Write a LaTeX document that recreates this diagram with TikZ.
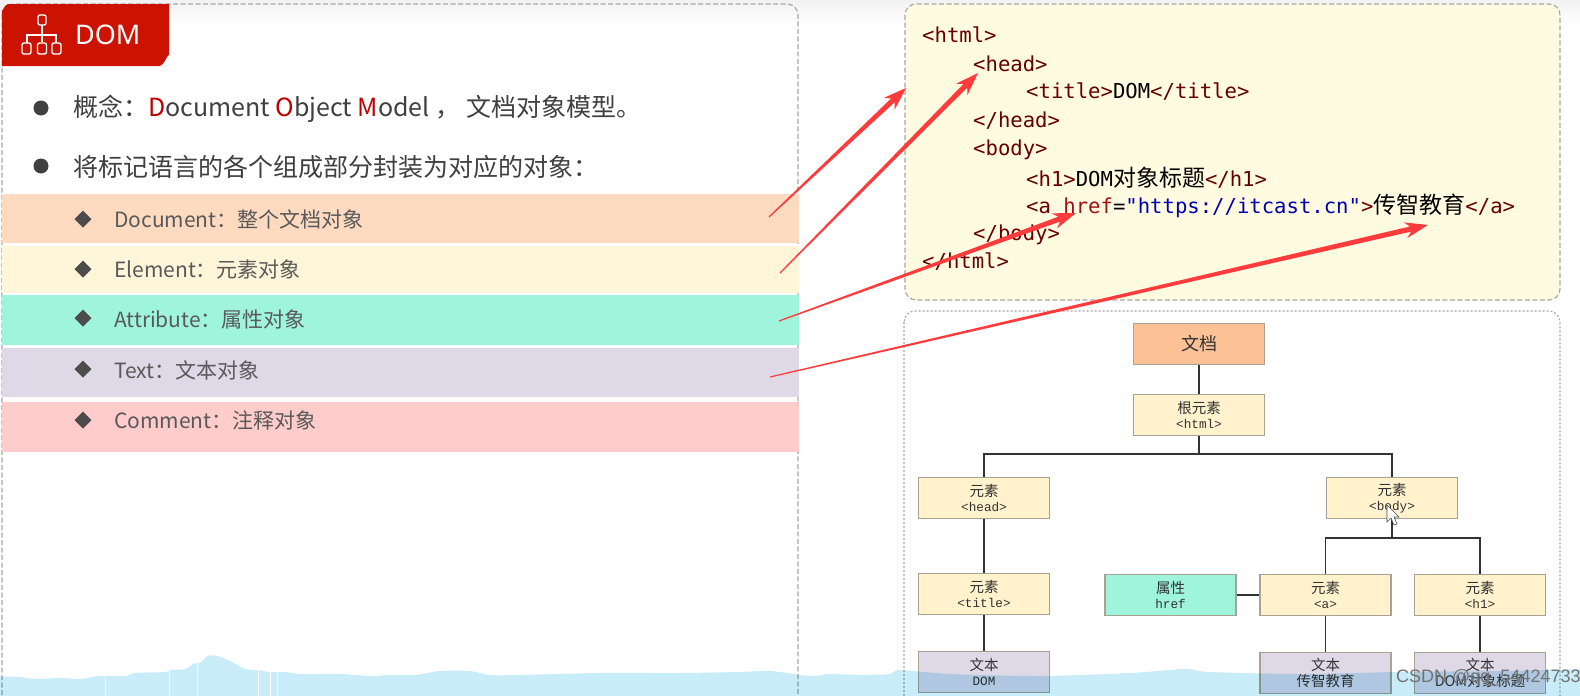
\documentclass[tikz,border=0pt]{standalone}
\usepackage{fontspec}
\setmainfont{Noto Sans CJK SC}
\newfontfamily\nsans{Noto Sans}
\newfontfamily\cmono{DejaVu Sans Mono}
\newfontfamily\tmono{Liberation Mono}
\newfontfamily\wmark{Liberation Sans}
\usetikzlibrary{calc}
\definecolor{tabred}{HTML}{CC1200}
\definecolor{bodytxt}{HTML}{404040}
\definecolor{rowtxt}{HTML}{595959}
\definecolor{emred}{HTML}{C00000}
\definecolor{tagc}{HTML}{660000}
\definecolor{attrc}{HTML}{A01010}
\definecolor{urlc}{HTML}{0000B0}
\definecolor{arrowc}{HTML}{FF3B3B}
\definecolor{panely}{HTML}{FFFBE1}
\definecolor{cream}{HTML}{FFF2CC}
\definecolor{orangeb}{HTML}{FCC296}
\definecolor{greenb}{HTML}{9FF5DB}
\definecolor{purpleb}{HTML}{DFD8E6}
\definecolor{framec}{HTML}{A8A294}
\definecolor{water}{HTML}{C9ECF9}
\newcommand\fs[1]{\fontsize{#1}{#1}\selectfont}
\newcommand\taperarrow[2]{%
  \coordinate (neck) at ($(#2)!18pt!(#1)$);
  \coordinate (barb) at ($(#2)!23pt!(#1)$);
  \fill[arrowc] ($(#1)!0.6pt!90:(#2)$) -- ($(neck)!2.6pt!90:(#2)$) -- ($(barb)!8pt!90:(#2)$)
    -- (#2) -- ($(barb)!8pt!-90:(#2)$) -- ($(neck)!2.6pt!-90:(#2)$) -- ($(#1)!0.6pt!-90:(#2)$) -- cycle;
}
\tikzset{
  x=1pt,y=-1pt,
  rowbar/.style={minimum width=797,minimum height=#1,inner sep=0,anchor=north west,draw=none},
  rowlabel/.style={anchor=west,inner sep=0,text=rowtxt,font=\fs{21}},
  lead/.style={anchor=west,inner sep=0,text=bodytxt,font=\fs{25}},
  codeline/.style={anchor=west,inner sep=0,font=\cmono\fs{20.6},text=tagc},
  treebox/.style={draw=framec,line width=1.6pt,minimum width=131,minimum height=41,inner sep=0,
     align=center,font=\fs{14.5},text=black!80,fill=cream},
  link/.style={draw=black!80,line width=1.7pt},
  panel/.style={draw=black!35,line width=1.1pt,rounded corners=11pt},
}
\begin{document}
\begin{tikzpicture}
\useasboundingbox (0,0) rectangle (1580,696);
\clip (0,0) rectangle (1580,696);
\fill[white] (0,0) rectangle (1580,696);
\shade[top color=black!5,bottom color=white,draw=none] (0,0) rectangle (1580,28);

% panels
\draw[panel,dashed,dash pattern=on 5pt off 2.5pt] (2,4) rectangle (798,730);
\draw[panel,dashed,dash pattern=on 5pt off 2.5pt,fill=panely] (905,4) rectangle (1560,300);
\draw[panel,dash pattern=on 2pt off 2pt] (904,311) rectangle (1560,730);

% tab
\fill[tabred] (2,66) -- (2,10) to[out=-90,in=180] (8,4) -- (169,4) -- (169,56) to[out=90,in=0] (159,66) -- cycle;
\begin{scope}[draw=white,line width=1.4pt]
  \draw[rounded corners=2pt] (38,15) rectangle (46,25);
  \draw (42,25) -- (42,42);
  \draw (27,43) -- (27,35) -- (56,35) -- (56,43);
  \draw[rounded corners=2pt] (22,43) rectangle (31,54);
  \draw[rounded corners=2pt] (37.5,43) rectangle (46.5,54);
  \draw[rounded corners=2pt] (52,43) rectangle (61,54);
\end{scope}
\node[anchor=west,inner sep=0,text=white,font=\nsans\bfseries\fs{27}] (domtitle) at (75,35) {DOM};

% lead lines
\fill[black!75] (41,108) circle (7.5);
\fill[black!75] (41,166) circle (7.5);
\node[lead] (concept) at (73,109) {概念：\textcolor{emred}{D}ocument \textcolor{emred}{O}bject \textcolor{emred}{M}odel ， 文档对象模型。};
\node[lead] (wrapline) at (73,167) {将标记语言的各个组成部分封装为对应的对象：};

% rows
\node[rowbar=49,fill=orangeb!60!white] (rowa) at (2,194) {};
\node[rowbar=47,fill=cream!75!white] (rowb) at (2,246) {};
\node[rowbar=50,fill=greenb] (rowc) at (2,295) {};
\node[rowbar=49,fill=purpleb] (rowd) at (2,348) {};
\node[rowbar=50,fill=red!20!white] (rowe) at (2,402) {};
\foreach \yy in {219,269,318,369,420}{
  \fill[black!70] (83,\yy-8.5) -- (91.5,\yy) -- (83,\yy+8.5) -- (74.5,\yy) -- cycle;
}
\node[rowlabel] (ta) at (114,219) {Document：整个文档对象};
\node[rowlabel] (tb) at (114,269) {Element：元素对象};
\node[rowlabel] (tc) at (114,319) {Attribute：属性对象};
\node[rowlabel] (td) at (114,370) {Text：文本对象};
\node[rowlabel] (te) at (114,420) {Comment：注释对象};

% code
\newcommand\cjkc[1]{{\rmfamily\fs{23}\textcolor{black}{#1}}}
\node[codeline] (c1) at (922,35) {<html>};
\node[codeline] (c2) at (973,64) {<head>};
\node[codeline] (c3) at (1026,92) {<title>\textcolor{black}{DOM}</title>};
\node[codeline] (c4) at (973,121) {</head>};
\node[codeline] (c5) at (973,150) {<body>};
\node[codeline] (c6) at (1026,178) {<h1>\textcolor{black}{DOM}\cjkc{对象标题}</h1>};
\node[codeline] (c7) at (1026,206) {<a \textcolor{attrc}{href}\textcolor{black}{=}\textcolor{urlc}{"https://itcast.cn"}>\cjkc{传智教育}</a>};
\node[codeline] (c8) at (973,235) {</body>};
\node[codeline] (c9) at (922,262) {</html>};

% tree
\newcommand\tl[1]{{\tmono\fs{12.7}#1}}
\node[treebox,fill=orangeb,font=\fs{18}] (doc) at (1199,344) {文档};
\node[treebox] (root) at (1199,415) {根元素\\[1pt]\tl{<html>}};
\node[treebox] (head) at (984,498) {元素\\[1pt]\tl{<head>}};
\node[treebox] (body) at (1392,498) {元素\\[1pt]\tl{<body>}};
\node[treebox] (titl) at (984,594) {元素\\[1pt]\tl{<title>}};
\node[treebox,fill=greenb] (href) at (1170.5,595) {属性\\[1pt]\tl{href}};
\node[treebox] (aa) at (1325.5,595) {元素\\[1pt]\tl{<a>}};
\node[treebox] (hh) at (1480,595) {元素\\[1pt]\tl{<h1>}};
\node[treebox,fill=purpleb] (t1) at (984,672) {文本\\[1pt]\tl{DOM}};
\node[treebox,fill=purpleb] (t2) at (1325.5,673) {文本\\[1pt]{\fs{14.5}传智教育}};
\node[treebox,fill=purpleb] (t3) at (1480,673) {文本\\[1pt]{\fs{14.5}DOM对象标题}};

\draw[link] (doc) -- (root);
\draw[link] (root.south) -- (1199,454) -| (head.north);
\draw[link] (root.south) -- (1199,454) -| (body.north);
\draw[link] (head) -- (titl);
\draw[link] (titl) -- (t1);
\draw[link] (body.south) -- (1392,538) -| (aa.north);
\draw[link] (body.south) -- (1392,538) -| (hh.north);
\draw[link] (href) -- (aa);
\draw[link] (aa) -- (t2);
\draw[link] (hh) -- (t3);

% cursor
\fill[white,draw=black!70,line width=.6pt] (1387,505) -- (1387,522) -- (1391,518) -- (1394,525) -- (1397,524) -- (1394,517) -- (1399,517) -- cycle;

% arrows
\coordinate (s1) at (769,217); \coordinate (e1) at (906,88);
\coordinate (s2) at (780,273); \coordinate (e2) at (978,73);
\coordinate (s3) at (779,321); \coordinate (e3) at (1076,213);
\coordinate (s4) at (770,377); \coordinate (e4) at (1428,225);
\taperarrow{s1}{e1}
\taperarrow{s2}{e2}
\taperarrow{s3}{e3}
\taperarrow{s4}{e4}

% water
\begin{scope}[blend mode=multiply]
\fill[water] plot[smooth,tension=.5] coordinates {(0,676.5)(20,677)(35,679)(60,678)(80,679)(100,676)(125,676)(135,673)(165,672)(170,670)(185,669)(195,663)(200,663)(208,656)(218,656)(232,662)(245,669)(258,670)(270,672)(285,672)(300,674)(340,674)(370,676)(390,675)(415,675)(440,671)(470,671)(490,675)(520,675)(600,673)(680,673)(740,672)(770,671)(800,675)(815,676)(830,674)(860,675)(890,674)(900,670)(950,674)(1040,676)(1130,673)(1170,670)(1190,669)(1210,672)(1300,674)(1400,672)(1500,671)(1580,669)} -- (1580,696) -- (0,696) -- cycle;
\end{scope}
\foreach \xx/\yy in {105/676,169/670,197/662,258/669,270/671,277/671}{
  \draw[white,line width=.9pt] (\xx,\yy) -- (\xx,696);
}
\node[anchor=west,inner sep=0,text=black!55,font=\wmark\fs{18}] (mark) at (1396,678) {CSDN @qq\_54424733};
\end{tikzpicture}
\end{document}
